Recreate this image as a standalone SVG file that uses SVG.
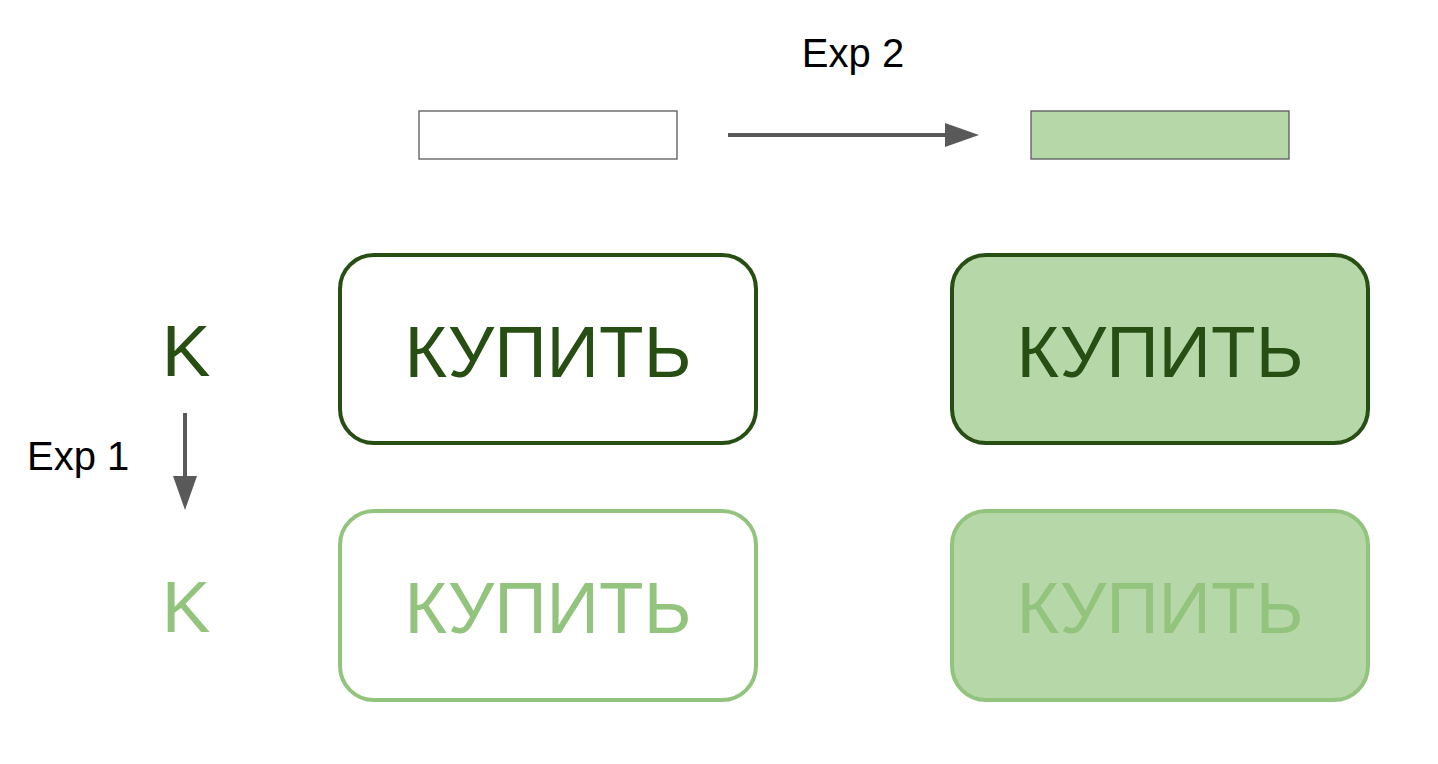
<svg xmlns="http://www.w3.org/2000/svg" width="1438" height="764" viewBox="0 0 1438 764">
<style>
.lbl{font-family:"Liberation Sans",Arial,sans-serif;font-size:40px;fill:#000}
.btn{font-family:"Liberation Sans",Arial,sans-serif;font-size:73px;text-anchor:middle}
.k{font-family:"Liberation Sans",Arial,sans-serif;font-size:73px;text-anchor:middle}
.dark{fill:#274e13}
.light{fill:#93c47d}
.conn{stroke:#595959;stroke-width:4;fill:none}
</style>
<defs>
<marker id="ah" markerWidth="10" markerHeight="8" refX="0" refY="4" orient="auto" markerUnits="userSpaceOnUse" viewBox="0 0 10 8">
<path d="M0,0 L10,4 L0,8 Z" fill="#595959"/>
</marker>
</defs>
<rect width="1438" height="764" fill="#fff"/>
<g id="label-exp2"><text class="lbl" x="853" y="67" text-anchor="middle">Exp 2</text></g>
<g id="label-exp1"><text class="lbl" x="27" y="470">Exp 1</text></g>
<g id="bar-white"><rect x="419" y="111" width="258" height="48" fill="#fff" stroke="#595959" stroke-width="1.3"/></g>
<g id="bar-green"><rect x="1031" y="111" width="258" height="48" fill="#b6d7a8" stroke="#595959" stroke-width="1.3"/></g>
<g id="k-dark"><text class="k dark" x="186" y="376">K</text></g>
<g id="k-light"><text class="k light" x="186" y="632">K</text></g>
<g id="btn-1"><rect x="340" y="255" width="416" height="188" rx="34" fill="#fff" stroke="#274e13" stroke-width="4"/><text class="btn dark" x="548" y="377">КУПИТЬ</text></g>
<g id="btn-2"><rect x="952" y="255" width="416" height="188" rx="34" fill="#b6d7a8" stroke="#274e13" stroke-width="4"/><text class="btn dark" x="1160" y="377">КУПИТЬ</text></g>
<g id="btn-3"><rect x="340" y="511" width="416" height="189" rx="34" fill="#fff" stroke="#93c47d" stroke-width="4"/><text class="btn light" x="548" y="633">КУПИТЬ</text></g>
<g id="btn-4"><rect x="952" y="511" width="416" height="189" rx="34" fill="#b6d7a8" stroke="#93c47d" stroke-width="4"/><text class="btn light" x="1160" y="633">КУПИТЬ</text></g>
<g id="connectors">
<path class="conn" d="M728,135 L946,135"/>
<path d="M945,123 L979,135 L945,147 Z" fill="#595959"/>
<path class="conn" d="M185,413 L185,478"/>
<path d="M173,476 L185,510 L197,476 Z" fill="#595959"/>
</g>
</svg>
